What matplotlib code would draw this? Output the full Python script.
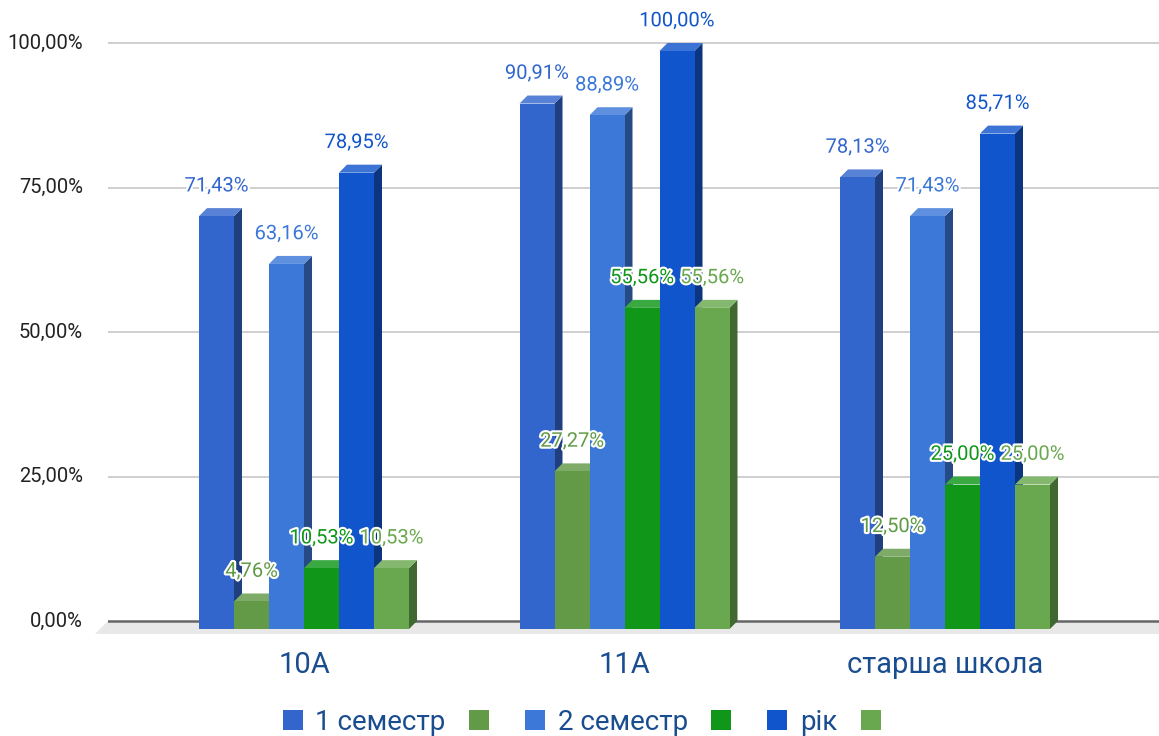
import matplotlib
matplotlib.use("Agg")
import matplotlib.pyplot as plt
import matplotlib.patheffects as pe
from matplotlib.patches import Polygon, Rectangle
from matplotlib.colors import to_rgb
import numpy as np

plt.rcParams['font.family'] = ['Roboto', 'DejaVu Sans']

categories = ["10A", "11A", "старша школа"]
series_names = ["1 семестр", "", "2 семестр", "", "рік", ""]
series_colors = ["#3366cc", "#629a47", "#3c78d8", "#109618", "#1155cc", "#6aa84f"]
label_colors = ["#3366cc", "#5f9a45", "#3c78d8", "#109618", "#1155cc", "#6aa84f"]
values = [
    [71.43, 90.91, 78.13],   # 1 семестр
    [4.76, 27.27, 12.50],
    [63.16, 88.89, 71.43],   # 2 семестр
    [10.53, 55.56, 25.00],
    [78.95, 100.00, 85.71],  # рік
    [10.53, 55.56, 25.00],
]
yticks = [0, 25, 50, 75, 100]
ytick_labels = ["0,00%", "25,00%", "50,00%", "75,00%", "100,00%"]


def lighter(c, f=0.18):
    r = np.array(to_rgb(c))
    return tuple(r + (1 - r) * f)


def darker(c, f=0.62):
    return tuple(np.array(to_rgb(c)) * f)


W, H = 1159, 736
fig = plt.figure(figsize=(W / 100, H / 100), dpi=100)

# pixel geometry of the plot area
px_per_pct = 578 / 100
ax_left, ax_bottom_px = 108, 640
ymin = -(ax_bottom_px - 621) / px_per_pct
ymax = 621 / px_per_pct
ax = fig.add_axes([ax_left / W, (H - ax_bottom_px) / H, (W - ax_left) / W, ax_bottom_px / H])
px_per_x = 320.5
xmin = (ax_left - 304) / px_per_x
xmax = (W - 304) / px_per_x
ax.set_xlim(xmin, xmax)
ax.set_ylim(ymin, ymax)
ax.axis("off")

bw = 35 / px_per_x
dx = 8 / px_per_x
dy = 8 / px_per_pct

# gridlines + floor
for t, lab in zip(yticks, ytick_labels):
    if t > 0:
        ax.plot([xmin, xmax], [t, t], color="#cccccc", lw=1.3, zorder=1)
    ax.text(xmin - 25 / px_per_x, t, lab, ha="right", va="center",
            fontsize=14.5, color="#222222", clip_on=False)
floor_dy = 13 / px_per_pct
floor_dx = 13 / px_per_x
ax.add_patch(Polygon([(xmin, 0), (xmax, 0), (xmax, -floor_dy), (xmin - floor_dx, -floor_dy)],
                     closed=True, facecolor="#e8e8e8", edgecolor="none", zorder=1, clip_on=False))
ax.plot([xmin, xmax], [0, 0], color="#666666", lw=1.8, zorder=2)

n = len(values)
x = np.arange(len(categories))
for g in range(len(categories)):
    start = x[g] - n * bw / 2
    for i in range(n):
        v = values[i][g]
        c = series_colors[i]
        x0 = start + i * bw
        x1 = x0 + bw
        # side face
        ax.add_patch(Polygon([(x1, -dy), (x1 + dx, 0), (x1 + dx, v), (x1, v - dy)],
                             closed=True, facecolor=darker(c), edgecolor="none", zorder=3))
        # top face
        ax.add_patch(Polygon([(x0, v - dy), (x1, v - dy), (x1 + dx, v), (x0 + dx, v)],
                             closed=True, facecolor=lighter(c), edgecolor="none", zorder=3))
        # front face
        ax.add_patch(Rectangle((x0, -dy), bw, v, facecolor=c, edgecolor="none", zorder=3))
        ax.text(x0 + bw / 2, v + 2.2, f"{v:.2f}%".replace(".", ","), ha="center", va="bottom",
                fontsize=14.5, color=label_colors[i], zorder=5,
                path_effects=[pe.withStroke(linewidth=3, foreground="white")])

for g, cat in enumerate(categories):
    ax.text(x[g], ymin - 4.3, cat, ha="center", va="center", fontsize=21,
            color="#1a4d8f", clip_on=False)

handles = [Rectangle((0, 0), 1, 1, facecolor=c, edgecolor="none") for c in series_colors]
leg = fig.legend(handles, series_names, loc="center", bbox_to_anchor=(588 / W, 1 - 722 / H), ncol=6,
                 frameon=False, fontsize=20, handlelength=0.72, handleheight=0.72,
                 handletextpad=0.45, columnspacing=0.85)
for t in leg.get_texts():
    t.set_color("#1a4d8f")

fig.savefig("out.png", dpi=100)
